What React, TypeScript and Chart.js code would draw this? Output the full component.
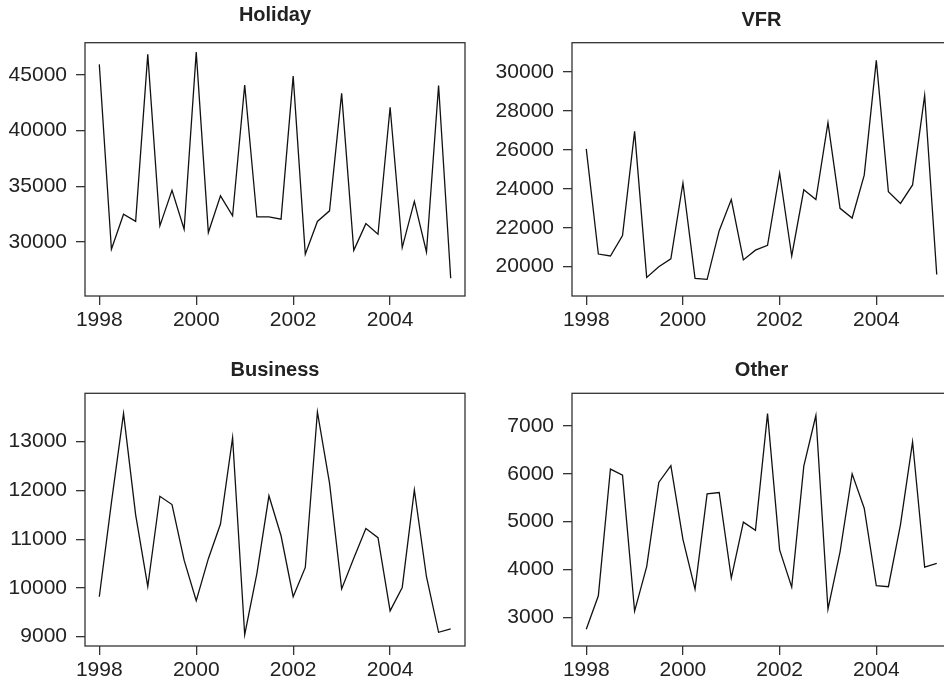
import React, { useEffect, useRef } from 'react';
import { Chart, registerables } from 'chart.js';

Chart.register(...registerables);

// Quarterly time index (1998 Q1 .. 2005 Q2)
const quarterTimes = [
  1998, 1998.25, 1998.5, 1998.75,
  1999, 1999.25, 1999.5, 1999.75,
  2000, 2000.25, 2000.5, 2000.75,
  2001, 2001.25, 2001.5, 2001.75,
  2002, 2002.25, 2002.5, 2002.75,
  2003, 2003.25, 2003.5, 2003.75,
  2004, 2004.25, 2004.5, 2004.75,
  2005, 2005.25,
];

const holiday = [
  45950, 29350, 32500, 31850, 46850, 31450, 34650, 31150,
  47050, 30850, 34150, 32350, 44100, 32250, 32250, 32050,
  44900, 28900, 31850, 32800, 43350, 29250, 31650, 30700,
  42100, 29500, 33650, 29100, 44050, 26750,
];

const vfr = [
  26050, 20650, 20550, 21600, 26950, 19450, 20000, 20400,
  24300, 19400, 19350, 21850, 23450, 20350, 20850, 21100,
  24800, 20550, 23950, 23450, 27400, 23000, 22500, 24700,
  30600, 23850, 23250, 24200, 28800, 19600,
];

const business = [
  9820, 11750, 13580, 11500, 10030, 11880, 11710, 10570,
  9740, 10600, 11310, 13080, 9040, 10290, 11890, 11070,
  9820, 10420, 13610, 12150, 9980, 10610, 11220, 11030,
  9530, 10010, 12010, 10230, 9090, 9160,
];

const other = [
  2750, 3450, 6100, 5970, 3130, 4060, 5820, 6170,
  4630, 3590, 5580, 5610, 3820, 4990, 4820, 7260,
  4410, 3630, 6160, 7220, 3170, 4370, 6000, 5280,
  3660, 3640, 4940, 6670, 4050, 4130,
];

const yearTicks = [1998, 2000, 2002, 2004];
const holidayTicks = [30000, 35000, 40000, 45000];
const vfrTicks = [20000, 22000, 24000, 26000, 28000, 30000];
const businessTicks = [9000, 10000, 11000, 12000, 13000];
const otherTicks = [3000, 4000, 5000, 6000, 7000];

const FONT = "'Liberation Sans', Arial, Helvetica, sans-serif";
const X_MIN = 1997.705;
const X_MAX = 2005.545;

type PanelSpec = {
  title: string;
  values: number[];
  yTicks: number[];
  yMin: number;
  yMax: number;
  left: number;
  top: number;
  width: number;
  height: number;
  yAxisWidth: number;
  xAxisHeight: number;
  padRight: number;
  titleTop: number;
  titleBottom: number;
};

const panels: PanelSpec[] = [
  {
    title: 'Holiday', values: holiday, yTicks: holidayTicks, yMin: 25150, yMax: 47900,
    left: 0, top: 0, width: 472, height: 342, yAxisWidth: 85, xAxisHeight: 46, padRight: 7,
    titleTop: 3.5, titleBottom: 15.2,
  },
  {
    title: 'VFR', values: vfr, yTicks: vfrTicks, yMin: 18495, yMax: 31505,
    left: 472, top: 0, width: 490, height: 342, yAxisWidth: 100, xAxisHeight: 46, padRight: 11,
    titleTop: 8.5, titleBottom: 10.2,
  },
  {
    title: 'Business', values: business, yTicks: businessTicks, yMin: 8809, yMax: 13992,
    left: 0, top: 342, width: 472, height: 342, yAxisWidth: 85, xAxisHeight: 38, padRight: 7,
    titleTop: 16.2, titleBottom: 11.1,
  },
  {
    title: 'Other', values: other, yTicks: otherTicks, yMin: 2400, yMax: 7684,
    left: 472, top: 342, width: 490, height: 342, yAxisWidth: 100, xAxisHeight: 38, padRight: 11,
    titleTop: 16.2, titleBottom: 11.1,
  },
];

const boxPlugin = {
  id: 'rbox',
  afterDatasetsDraw(chart: any) {
    const { ctx, chartArea } = chart;
    const { left, top, right, bottom } = chartArea;
    ctx.save();
    ctx.strokeStyle = '#333';
    ctx.lineWidth = 1.3;
    ctx.strokeRect(left, top, right - left, bottom - top);
    ctx.restore();
  },
};

function Panel({ spec }: { spec: PanelSpec }) {
  const ref = useRef<HTMLCanvasElement | null>(null);

  useEffect(() => {
    if (!ref.current) return;
    const data = spec.values.map((v, i) => ({ x: quarterTimes[i], y: v }));
    const chart = new Chart(ref.current, {
      type: 'line',
      data: {
        datasets: [
          {
            label: spec.title,
            data,
            borderColor: '#111',
            borderWidth: 1.3,
            pointRadius: 0,
            tension: 0,
            fill: false,
          },
        ],
      },
      options: {
        animation: false,
        responsive: false,
        maintainAspectRatio: false,
        events: [],
        layout: { padding: { left: 0, right: spec.padRight, top: 0, bottom: 0 } },
        plugins: {
          legend: { display: false },
          tooltip: { enabled: false },
          title: {
            display: true,
            text: spec.title,
            fullSize: false,
            color: '#222',
            font: { family: FONT, size: 20, weight: 'bold', lineHeight: 1.2 },
            padding: { top: spec.titleTop, bottom: spec.titleBottom },
          },
        },
        scales: {
          x: {
            type: 'linear',
            min: X_MIN,
            max: X_MAX,
            afterBuildTicks: (s: any) => {
              s.ticks = yearTicks.map((v) => ({ value: v }));
            },
            afterFit: (s: any) => {
              s.height = spec.xAxisHeight;
            },
            ticks: {
              autoSkip: false,
              maxRotation: 0,
              padding: 3,
              color: '#222',
              font: { family: FONT, size: 21 },
              callback: (v: any) => String(v),
            },
            grid: {
              drawOnChartArea: false,
              drawTicks: true,
              tickLength: 9,
              color: '#333',
              lineWidth: 1.3,
            },
            border: { display: false },
          },
          y: {
            type: 'linear',
            min: spec.yMin,
            max: spec.yMax,
            afterBuildTicks: (s: any) => {
              s.ticks = spec.yTicks.map((v) => ({ value: v }));
            },
            afterFit: (s: any) => {
              s.width = spec.yAxisWidth;
            },
            ticks: {
              autoSkip: false,
              padding: 9,
              color: '#222',
              font: { family: FONT, size: 21 },
              callback: (v: any) => String(v),
            },
            grid: {
              drawOnChartArea: false,
              drawTicks: true,
              tickLength: 9,
              color: '#333',
              lineWidth: 1.3,
            },
            border: { display: false },
          },
        },
      },
      plugins: [boxPlugin],
    });
    return () => chart.destroy();
  }, [spec]);

  return (
    <canvas
      ref={ref}
      width={spec.width}
      height={spec.height}
      style={{ position: 'absolute', left: spec.left, top: spec.top, display: 'block' }}
    />
  );
}

export default function App() {
  return (
    <div
      style={{
        position: 'fixed',
        left: 0,
        top: 0,
        width: 944,
        height: 684,
        overflow: 'hidden',
        background: '#fff',
      }}
    >
      {panels.map((p) => (
        <Panel key={p.title} spec={p} />
      ))}
    </div>
  );
}
